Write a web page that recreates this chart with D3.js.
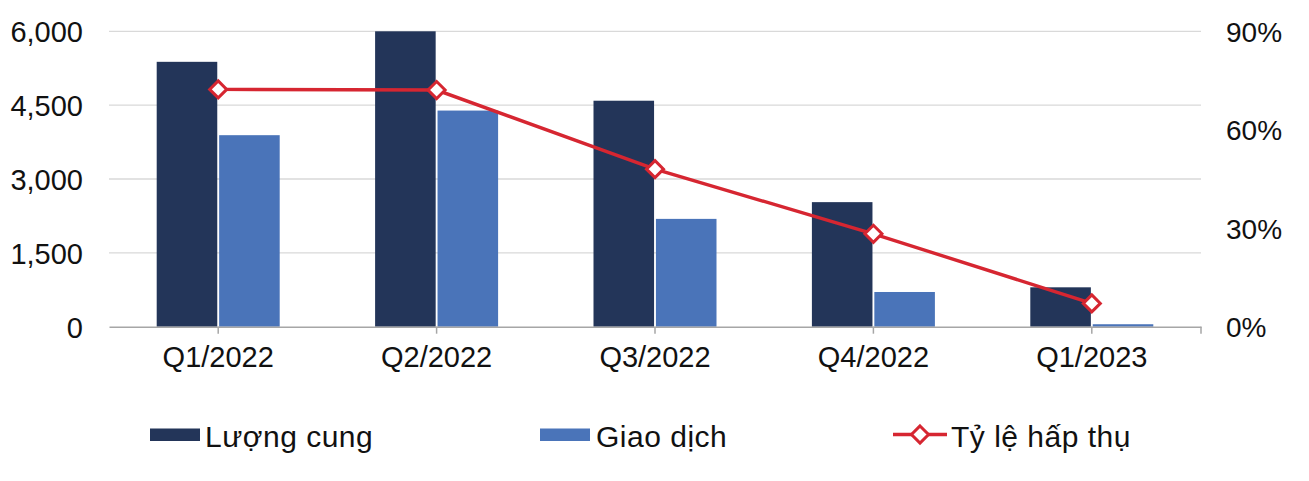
<!DOCTYPE html>
<html><head><meta charset="utf-8">
<script src="https://cdn.jsdelivr.net/npm/d3@7/dist/d3.min.js"></script>
<style>body{margin:0;background:#fff;} svg{display:block;font-family:"Liberation Sans",Arial,sans-serif;}</style>
</head><body>
<svg id="c" width="1309" height="481"></svg>
<script>
const categories = ["Q1/2022","Q2/2022","Q3/2022","Q4/2022","Q1/2023"];
const supply = [5380, 6000, 4590, 2530, 800];       // Lượng cung
const transactions = [3890, 4390, 2190, 705, 50];   // Giao dịch
const absorption = [0.723, 0.721, 0.48, 0.283, 0.071]; // Tỷ lệ hấp thụ
const leftTicks = [0, 1500, 3000, 4500, 6000];
const rightTicks = [0, 0.3, 0.6, 0.9];
const seriesNames = ["Lượng cung","Giao dịch","Tỷ lệ hấp thụ"];

const colors = {supply:"#233559", trans:"#4a74b9", line:"#d62631", grid:"#d9d9d9", axis:"#a6a6a6"};
const svg = d3.select("#c");
const L = 109, R = 1201, T = 31.3, B = 326.7;

const x = d3.scaleBand().domain(categories).range([L, R]).padding(0);
const bw = x.bandwidth();
const xi = d3.scaleBand().domain(["s","t"]).range([bw/2 - 61.5, bw/2 + 61.5]).paddingInner(0.03);
const y = d3.scaleLinear().domain([0, 6000]).range([B, T]);
const y2 = d3.scaleLinear().domain([0, 0.9]).range([B, T]);

// gridlines
svg.append("g").selectAll("line").data(leftTicks.slice(1)).join("line")
  .attr("x1", L).attr("x2", R).attr("y1", d=>y(d)).attr("y2", d=>y(d))
  .attr("stroke", colors.grid).attr("stroke-width", 1.3);

// left axis labels
const fmt = d3.format(",");
const ly = svg.append("g").attr("transform", `translate(${L},0)`)
  .call(d3.axisLeft(y).tickValues(leftTicks).tickFormat(fmt).tickSize(0).tickPadding(26));
ly.select(".domain").remove();
ly.selectAll("text").attr("font-size", 29).attr("fill", "#111").attr("font-family", "Liberation Sans, Arial, sans-serif").attr("dy", "0.36em");

// right axis labels
const ry = svg.append("g").attr("transform", `translate(${R},0)`)
  .call(d3.axisRight(y2).tickValues(rightTicks).tickFormat(d3.format(".0%")).tickSize(0).tickPadding(25));
ry.select(".domain").remove();
ry.selectAll("text").attr("font-size", 28).attr("fill", "#111").attr("font-family", "Liberation Sans, Arial, sans-serif").attr("dy", "0.36em");

// bars
const g = svg.append("g");
categories.forEach((c, i) => {
  g.append("rect").attr("x", x(c) + xi("s")).attr("width", xi.bandwidth())
    .attr("y", y(supply[i])).attr("height", y(0) - y(supply[i])).attr("fill", colors.supply);
  g.append("rect").attr("x", x(c) + xi("t")).attr("width", xi.bandwidth())
    .attr("y", y(transactions[i])).attr("height", y(0) - y(transactions[i])).attr("fill", colors.trans);
});

// bottom axis
const bx = svg.append("g").attr("transform", `translate(0,${B})`)
  .call(d3.axisBottom(x).tickSize(0).tickPadding(20));
bx.select(".domain").attr("stroke", colors.axis).attr("stroke-width", 1.5);
bx.selectAll("text").attr("font-size", 29).attr("fill", "#111").attr("font-family", "Liberation Sans, Arial, sans-serif").attr("dy", "0.71em");
svg.append("g").selectAll("line").data(categories).join("line")
  .attr("x1", d=>x(d)+bw/2).attr("x2", d=>x(d)+bw/2).attr("y1", B).attr("y2", B+7)
  .attr("stroke", colors.axis).attr("stroke-width", 1.5);
svg.append("line").attr("x1", R).attr("x2", R).attr("y1", B).attr("y2", B+7)
  .attr("stroke", colors.axis).attr("stroke-width", 1.5);

// line
const line = d3.line().x((d,i)=>x(categories[i]) + bw/2).y(d=>y2(d));
svg.append("path").datum(absorption).attr("d", line).attr("fill", "none")
  .attr("stroke", colors.line).attr("stroke-width", 3.4);
const diamond = d3.symbol().type(d3.symbolDiamond2).size(185);
svg.append("g").selectAll("path").data(absorption).join("path")
  .attr("d", diamond)
  .attr("transform", (d,i)=>`translate(${x(categories[i]) + bw/2},${y2(d)})`)
  .attr("fill", "#fff").attr("stroke", colors.line).attr("stroke-width", 3);

// legend
const lg = svg.append("g").attr("font-size", 30).attr("fill", "#111").attr("letter-spacing", "0.5px");
const legY = 434.5;
lg.append("rect").attr("x", 150).attr("y", legY-6).attr("width", 50).attr("height", 12.5).attr("fill", colors.supply);
lg.append("text").attr("x", 205).attr("y", 447).text(seriesNames[0]);
lg.append("rect").attr("x", 540).attr("y", legY-6).attr("width", 50).attr("height", 12.5).attr("fill", colors.trans);
lg.append("text").attr("x", 596).attr("y", 447).text(seriesNames[1]);
lg.append("line").attr("x1", 893).attr("x2", 947).attr("y1", legY).attr("y2", legY).attr("stroke", colors.line).attr("stroke-width", 3.4);
lg.append("path").attr("d", diamond).attr("transform", `translate(920,${legY})`)
  .attr("fill", "#fff").attr("stroke", colors.line).attr("stroke-width", 3);
lg.append("text").attr("x", 951).attr("y", 447).text(seriesNames[2]);
</script>
</body></html>
